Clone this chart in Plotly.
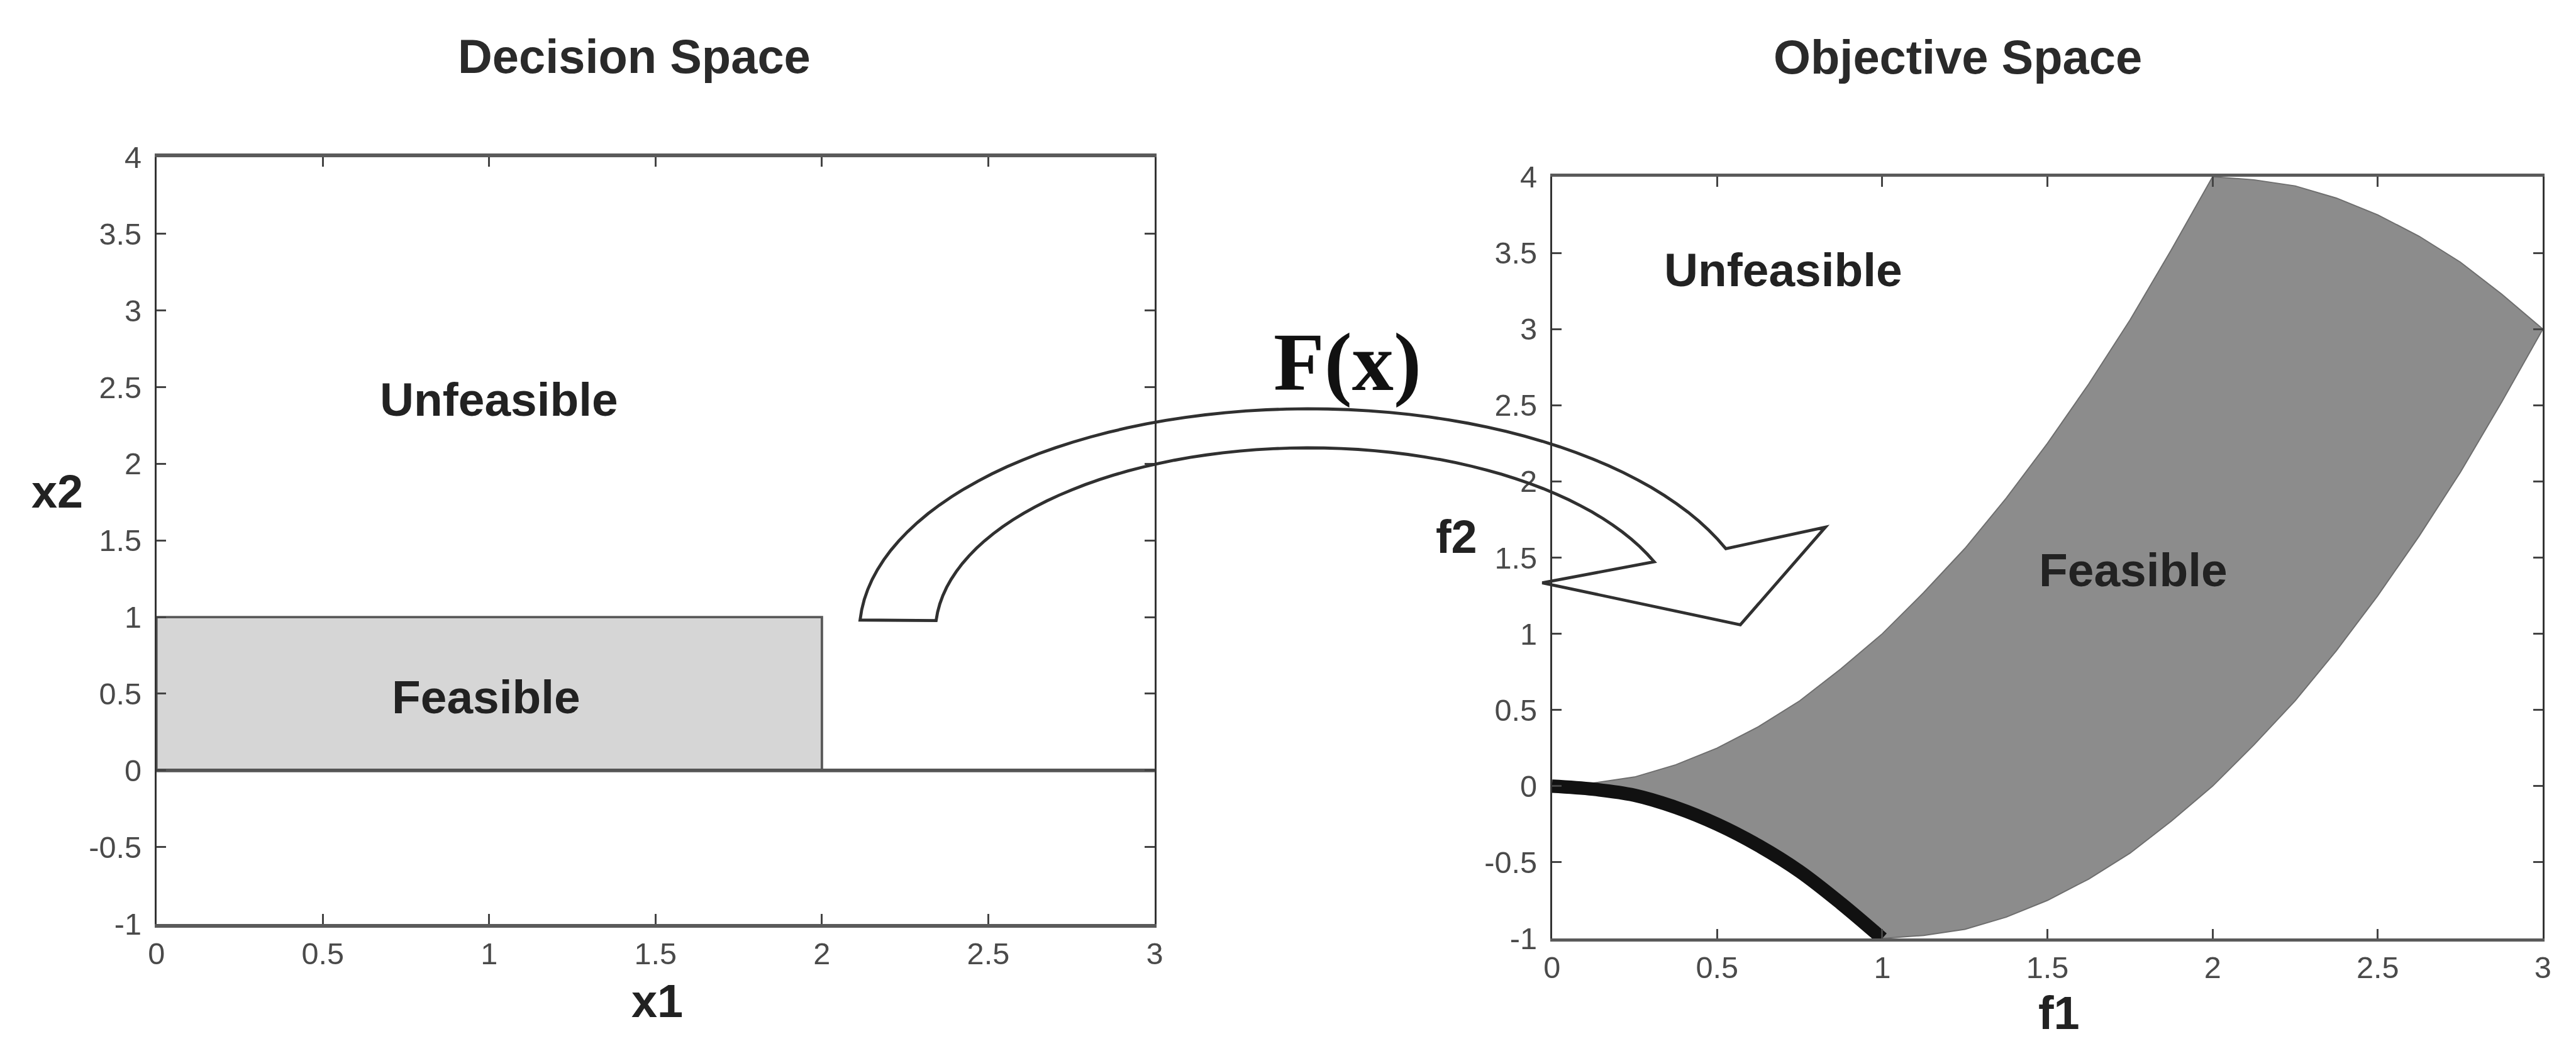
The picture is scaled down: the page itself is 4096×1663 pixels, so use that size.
import numpy as np
import plotly.graph_objects as go

# ---------------- canvas ----------------
W, H = 4096, 1663
RW, RH = 4211, 1710          # reference size
S = W / RW                   # 0.972 scale


def PX(x):
    return x / RW


def PY(y):
    return 1 - y / RH


# ---------------- data ----------------
tick_vals_x = [0, 0.5, 1, 1.5, 2, 2.5, 3]
tick_text_x = ["0", "0.5", "1", "1.5", "2", "2.5", "3"]
tick_vals_y = [-1, -0.5, 0, 0.5, 1, 1.5, 2, 2.5, 3, 3.5, 4]
tick_text_y = ["-1", "-0.5", "0", "0.5", "1", "1.5", "2", "2.5", "3", "3.5", "4"]

# Decision space: feasible box and the x2 = 0 boundary
feasible_x1 = [0, 2, 2, 0, 0]
feasible_x2 = [0, 0, 1, 1, 0]
bound_x1 = [0, 3]
bound_x2 = [0, 0]

# Objective space: boundaries of the feasible region
front_f1 = [0, 0.125, 0.25, 0.375, 0.5, 0.625, 0.75, 0.875, 1.0]
front_f2 = [0, -0.02, -0.06, -0.14, -0.25, -0.39, -0.56, -0.77, -1.0]

lower_f1 = [1.0, 1.125, 1.25, 1.375, 1.5, 1.625, 1.75, 1.875, 2.0,
            2.125, 2.25, 2.375, 2.5, 2.625, 2.75, 2.875, 3.0]
lower_f2 = [-1.0, -0.98, -0.94, -0.86, -0.75, -0.61, -0.44, -0.23, 0.0,
            0.27, 0.56, 0.89, 1.25, 1.64, 2.06, 2.52, 3.0]

top_f1 = [3.0, 2.875, 2.75, 2.625, 2.5, 2.375, 2.25, 2.125, 2.0]
top_f2 = [3.0, 3.23, 3.44, 3.61, 3.75, 3.86, 3.94, 3.98, 4.0]

upper_f1 = [2.0, 1.875, 1.75, 1.625, 1.5, 1.375, 1.25, 1.125, 1.0,
            0.875, 0.75, 0.625, 0.5, 0.375, 0.25, 0.125, 0.0]
upper_f2 = [4.0, 3.52, 3.06, 2.64, 2.25, 1.89, 1.56, 1.27, 1.0,
            0.77, 0.56, 0.39, 0.25, 0.14, 0.06, 0.02, 0.0]

region_f1 = front_f1 + lower_f1 + top_f1 + upper_f1
region_f2 = front_f2 + lower_f2 + top_f2 + upper_f2

# ---------------- styling ----------------
SANS = "Liberation Sans, Arial, Helvetica, sans-serif"
SERIF = "Liberation Serif, Times New Roman, serif"
TXT = "#222222"
TICKC = "#4a4a4a"

fig = go.Figure()

# left: feasible box
fig.add_trace(go.Scatter(x=feasible_x1, y=feasible_x2, mode="lines", fill="toself",
                         fillcolor="#d6d6d6", line=dict(color="#5a5a5a", width=4 * S),
                         xaxis="x", yaxis="y", hoverinfo="skip", showlegend=False))
fig.add_trace(go.Scatter(x=bound_x1, y=bound_x2, mode="lines",
                         line=dict(color="#555555", width=6 * S),
                         xaxis="x", yaxis="y", hoverinfo="skip", showlegend=False))

# right: feasible region and Pareto front
fig.add_trace(go.Scatter(x=region_f1, y=region_f2, mode="lines", fill="toself",
                         fillcolor="#8c8c8c", line=dict(color="#6e6e6e", width=2 * S),
                         xaxis="x2", yaxis="y2", hoverinfo="skip", showlegend=False))
fig.add_trace(go.Scatter(x=front_f1, y=front_f2, mode="lines", line_shape="spline",
                         line=dict(color="#111111", width=22 * S),
                         xaxis="x2", yaxis="y2", hoverinfo="skip", showlegend=False))


def xax(domain, lw):
    return dict(domain=domain, range=[0, 3], tickvals=tick_vals_x, ticktext=tick_text_x,
                ticks="inside", ticklen=16 * S, tickwidth=3 * S, tickcolor="#444444",
                showline=True, linecolor="#5a5a5a", linewidth=lw, mirror="ticks",
                showgrid=False, zeroline=False, fixedrange=True,
                tickfont=dict(family=SANS, size=50 * S, color=TICKC),
                ticklabelstandoff=0)


def yax(domain, anchor):
    return dict(domain=domain, range=[-1, 4], tickvals=tick_vals_y, ticktext=tick_text_y,
                ticks="inside", ticklen=16 * S, tickwidth=3 * S, tickcolor="#444444",
                showline=True, linecolor="#333333", linewidth=3 * S, mirror="ticks",
                showgrid=False, zeroline=False, fixedrange=True, anchor=anchor,
                tickfont=dict(family=SANS, size=50 * S, color=TICKC),
                ticklabelstandoff=int(12 * S))


fig.update_layout(
    width=W, height=H,
    margin=dict(l=0, r=0, t=0, b=0, pad=0),
    paper_bgcolor="white", plot_bgcolor="white",
    showlegend=False,
    xaxis=dict(xax([PX(243), PX(1886)], 6 * S), anchor="y"),
    yaxis=yax([PY(1532), PY(237)], "x"),
    xaxis2=dict(xax([PX(2540), PX(4171)], 5 * S), anchor="y2"),
    yaxis2=yax([PY(1557), PY(270)], "x2"),
)

annotations = []


def ptext(text, x, y, size, family=SANS, bold=True, color=TXT):
    t = f"<b>{text}</b>" if bold else text
    annotations.append(dict(text=t, x=PX(x), y=PY(y), xref="paper", yref="paper",
                            xanchor="center", yanchor="middle", showarrow=False,
                            font=dict(family=family, size=size * S, color=color)))


def dtext(text, x, y, xr, yr, size):
    annotations.append(dict(text=f"<b>{text}</b>", x=x, y=y, xref=xr, yref=yr,
                            xanchor="center", yanchor="middle", showarrow=False,
                            font=dict(family=SANS, size=size * S, color=TXT)))


# titles
ptext("Decision Space", 1029, 66, 78, color="#2a2a2a")
ptext("Objective Space", 3208, 68, 78, color="#2a2a2a")
# axis labels
ptext("x1", 1067, 1663, 76)
ptext("x2", 80, 802, 76)
ptext("f1", 3375, 1683, 76)
ptext("f2", 2383, 878, 76)
# mapping label
ptext("F(x)", 2203, 583, 136, family=SERIF, color="#111111")

# region labels (data coordinates)
dtext("Unfeasible", 1.03, 2.42, "x", "y", 77)
dtext("Feasible", 0.99, 0.48, "x", "y", 77)
dtext("Unfeasible", 0.70, 3.39, "x2", "y2", 77)
dtext("Feasible", 1.76, 1.42, "x2", "y2", 77)

# ---------------- curved arrow (decoration, reference pixel geometry) ----------------
ARC_C = (2140, 1040)
OUT_R = (740, 378)
IN_R = (615, 312)
T_START_OUT, T_START_IN, T_END_OUT, T_END_IN = 176.8, 176.3, 22.0, 22.5
HEAD = [(2990, 862), (2850, 1027), (2524, 956)]

pts = []
for t in np.linspace(T_START_OUT, T_END_OUT, 60):
    r = np.radians(t)
    pts.append((ARC_C[0] + OUT_R[0] * np.cos(r), ARC_C[1] - OUT_R[1] * np.sin(r)))
pts += HEAD
for t in np.linspace(T_END_IN, T_START_IN, 60):
    r = np.radians(t)
    pts.append((ARC_C[0] + IN_R[0] * np.cos(r), ARC_C[1] - IN_R[1] * np.sin(r)))

path = "M " + " L ".join(f"{PX(x):.5f},{PY(y):.5f}" for x, y in pts) + " Z"

fig.update_layout(
    annotations=annotations,
    shapes=[dict(type="path", path=path, xref="paper", yref="paper",
                 line=dict(color="#303030", width=5 * S),
                 fillcolor="rgba(0,0,0,0)", layer="above")],
)

fig.write_html("out.html", config={"displayModeBar": False})
